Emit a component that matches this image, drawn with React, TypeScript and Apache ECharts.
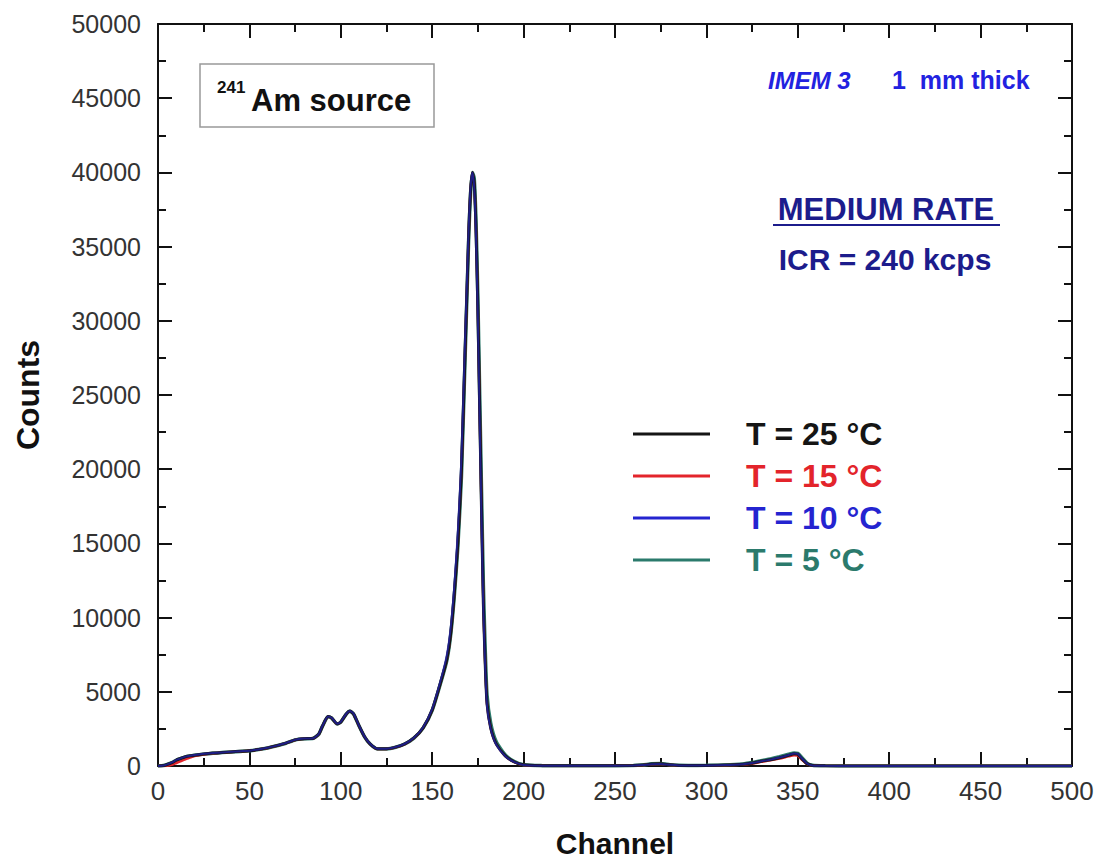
import React, { useEffect, useRef } from "react";
import * as echarts from "echarts";

const channels = [0,3,5,8,10,13,15,18,20,25,30,35,40,45,50,55,60,65,70,75,80,85,88,90,93,95,98,100,103,105,107,110,113,116,120,125,130,135,140,145,150,155,158,160,162,164,166,168,169,170,171,172,173,174,175,176,177,178,179,180,182,185,190,195,200,210,220,240,260,265,270,275,280,285,290,300,310,320,325,330,335,340,345,348,350,352,355,358,365,380,400,450,500];

const counts25 = [0,30,100,250,400,540,620,690,730,810,870,910,950,990,1030,1110,1220,1370,1540,1760,1840,1870,2160,2700,3330,3240,2840,2970,3510,3700,3510,2700,1970,1490,1160,1160,1270,1490,1890,2570,3780,5810,7200,8800,11500,15000,20000,28000,32000,36000,38800,40000,39300,36000,30700,23900,17200,10900,6900,4200,2570,1490,680,270,80,20,10,10,30,60,130,150,80,40,30,40,60,120,200,320,420,560,720,820,800,520,160,40,10,5,0,0,0];
const counts15 = [0,5,20,100,200,350,450,580,680,780,860,905,948,988,1028,1108,1218,1368,1538,1758,1838,1868,2150,2690,3320,3230,2830,2960,3500,3690,3500,2690,1960,1480,1150,1150,1260,1480,1880,2560,3770,5800,7180,8780,11480,14980,19980,27980,31980,35980,38780,39980,39280,35980,30680,23880,17180,10880,6880,4180,2560,1480,670,260,70,15,5,5,20,50,110,130,70,30,20,30,50,100,170,280,380,500,650,720,700,450,130,30,5,0,0,0,0];
const counts10 = [0,35,110,260,410,550,630,700,740,820,875,915,955,995,1035,1115,1225,1375,1545,1765,1845,1875,2170,2710,3340,3250,2850,2980,3520,3710,3520,2710,1980,1500,1170,1170,1280,1500,1900,2600,3850,5950,7500,9200,12000,15800,20800,28800,32600,36400,39000,40000,39000,35500,30000,23000,16500,10400,6600,4000,2500,1450,660,260,75,20,10,10,30,60,120,140,80,40,30,40,60,120,200,320,430,570,740,840,820,540,170,40,10,5,0,0,0];
const counts5 = [0,30,100,240,390,530,610,680,720,800,865,905,945,985,1025,1105,1215,1365,1535,1755,1835,1865,2150,2690,3320,3230,2830,2960,3500,3690,3500,2690,1960,1480,1150,1150,1260,1480,1880,2550,3750,5750,7100,8700,11300,14700,19500,27500,31600,35700,38600,40000,39600,36600,31500,25000,18500,12200,7900,4800,2900,1650,740,300,90,25,15,15,35,70,150,170,90,45,35,45,70,140,230,360,470,620,790,880,860,600,200,50,15,5,0,0,0];

const seriesNames = ["T = 25 °C", "T = 15 °C", "T = 10 °C", "T = 5 °C"];
const seriesColors = ["#151515", "#e3242b", "#2424d0", "#2b7a6c"];
const seriesData = [counts25, counts15, counts10, counts5];
const seriesZ = [4, 3, 5, 2];
const seriesWidth = [3, 2.5, 2, 3.5];
const seriesOpacity = [1, 1, 0.6, 1];

const xRange = [0, 500];
const yRange = [0, 50000];

const FONT = "Liberation Sans, Arial, sans-serif";

export default function App() {
  const ref = useRef<HTMLDivElement>(null);
  useEffect(() => {
    document.body.style.margin = "0";
    const chart = echarts.init(ref.current!, undefined, { renderer: "svg" });
    const axisCommon = {
      axisLine: { show: true, onZero: false, lineStyle: { color: "#111", width: 2 } },
      axisTick: { show: true, inside: true, length: 14, lineStyle: { color: "#111", width: 2 } },
      minorTick: { show: true, splitNumber: 2, length: 8, lineStyle: { color: "#111", width: 2 } },
      splitLine: { show: false },
    };
    chart.setOption({
      animation: false,
      backgroundColor: "#fff",
      textStyle: { fontFamily: FONT },
      grid: { left: 158, top: 24, width: 914, height: 742 },
      legend: {
        left: 628,
        top: 413,
        orient: "vertical",
        itemWidth: 77,
        itemHeight: 3,
        itemGap: 10,
        icon: "rect",
        textStyle: { fontSize: 32, fontWeight: "bold", fontFamily: FONT, padding: [0, 0, 0, 31] },
        data: seriesNames.map((n, i) => ({ name: n, textStyle: { color: seriesColors[i] } })),
      },
      xAxis: [
        {
          type: "value",
          min: xRange[0],
          max: xRange[1],
          interval: 50,
          position: "bottom",
          name: "Channel",
          nameLocation: "middle",
          nameGap: 62,
          nameTextStyle: { fontSize: 30, fontWeight: "bold", color: "#111", fontFamily: FONT },
          axisLabel: { fontSize: 26, color: "#333", margin: 12, fontFamily: FONT, formatter: (v: number) => String(v) },
          ...axisCommon,
        },
        {
          type: "value",
          min: xRange[0],
          max: xRange[1],
          interval: 50,
          position: "top",
          axisLabel: { show: false },
          ...axisCommon,
        },
      ],
      yAxis: [
        {
          type: "value",
          min: yRange[0],
          max: yRange[1],
          interval: 5000,
          position: "left",
          name: "Counts",
          nameLocation: "middle",
          nameGap: 114,
          nameTextStyle: { fontSize: 32, fontWeight: "bold", color: "#111", fontFamily: FONT },
          axisLabel: { fontSize: 25, color: "#333", margin: 17, fontFamily: FONT, formatter: (v: number) => String(v) },
          ...axisCommon,
        },
        {
          type: "value",
          min: yRange[0],
          max: yRange[1],
          interval: 5000,
          position: "right",
          axisLabel: { show: false },
          ...axisCommon,
        },
      ],
      series: seriesNames.map((n, i) => ({
        name: n,
        type: "line",
        showSymbol: false,
        symbol: "none",
        smooth: 0.2,
        z: seriesZ[i],
        lineStyle: { color: seriesColors[i], width: seriesWidth[i], opacity: seriesOpacity[i] },
        itemStyle: { color: seriesColors[i] },
        data: channels.map((c, j) => [c, seriesData[i][j]]),
      })),
      graphic: [
        { type: "rect", shape: { x: 200, y: 64, width: 234, height: 63 }, style: { fill: "#fff", stroke: "#999", lineWidth: 1.5 } },
        { type: "text", x: 217, y: 87, style: { text: "241", font: `bold 17px ${FONT}`, fill: "#111", textVerticalAlign: "middle" } },
        { type: "text", x: 251, y: 100, style: { text: "Am source", font: `bold 31px ${FONT}`, fill: "#111", textVerticalAlign: "middle" } },
        { type: "text", x: 768, y: 80, style: { text: "IMEM 3", font: `italic bold 24px ${FONT}`, fill: "#2222e0", textVerticalAlign: "middle" } },
        { type: "text", x: 892, y: 80, style: { text: "1  mm thick", font: `bold 25px ${FONT}`, fill: "#2222e0", textVerticalAlign: "middle" } },
        { type: "text", x: 886, y: 209, style: { text: "MEDIUM RATE", font: `bold 31px ${FONT}`, fill: "#1c1c8c", textAlign: "center", textVerticalAlign: "middle" } },
        { type: "line", shape: { x1: 773, y1: 225, x2: 1000, y2: 225 }, style: { stroke: "#1c1c8c", lineWidth: 2 } },
        { type: "text", x: 885, y: 259, style: { text: "ICR = 240 kcps", font: `bold 30px ${FONT}`, fill: "#1c1c8c", textAlign: "center", textVerticalAlign: "middle" } },
      ],
    });
    return () => chart.dispose();
  }, []);
  return <div ref={ref} style={{ width: 1103, height: 865 }} />;
}
